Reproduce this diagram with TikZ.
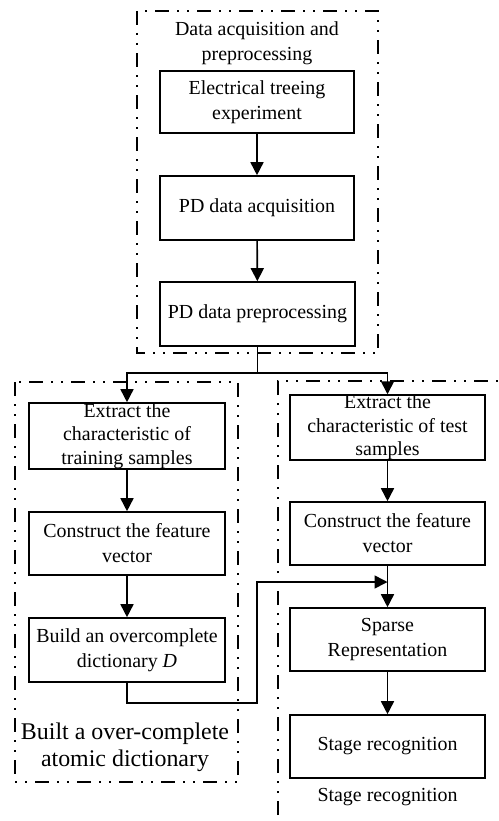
\documentclass[tikz,border=0pt]{standalone}
\usepackage{fontspec}
\setmainfont{Liberation Serif}
\usetikzlibrary{arrows.meta}
\tikzset{
  procbox/.style={draw, line width=1.6bp, rectangle, inner sep=0pt, align=center,
    font=\fontsize{20}{25}\selectfont},
  threeline/.style={font=\fontsize{20}{23.5}\selectfont},
  arr/.style={line width=1.6bp, -{Triangle[length=13bp,width=13bp]}},
  plainline/.style={line width=1.6bp},
  groupframe/.style={line width=1.8bp,
    dash pattern=on 14bp off 8bp on 2bp off 8bp on 2bp off 8bp},
  grouplabel/.style={align=center, inner sep=0pt}
}
\begin{document}
\begin{tikzpicture}[x=1bp,y=-1bp]
\useasboundingbox (0,0) rectangle (499,821);

% group frames
\draw[groupframe] (137,11) rectangle (378,353);
\draw[groupframe] (15,382) rectangle (238,782);
\draw[groupframe] (278,815) -- (278,381) -- (499,381);

% group labels
\node[grouplabel, font=\fontsize{20}{25}\selectfont] (gtop) at (257,43) {Data acquisition and\\preprocessing};
\node[grouplabel, font=\fontsize{24}{27.5}\selectfont] (gleft) at (125,747) {Built a over-complete\\atomic dictionary};
\node[grouplabel, font=\fontsize{20}{25}\selectfont] (gright) at (387.5,797) {Stage recognition};

% top column
\node[procbox, minimum width=194bp, minimum height=62bp] (e1) at (257,102) {Electrical treeing\\experiment};
\node[procbox, minimum width=194bp, minimum height=64bp] (e2) at (257,208) {PD data acquisition};
\node[procbox, minimum width=195bp, minimum height=64bp] (e3) at (257.5,314) {PD data preprocessing};

% left column
\node[procbox, threeline, minimum width=196bp, minimum height=66bp] (l1) at (127,436) {Extract the\\characteristic of\\training samples};
\node[procbox, minimum width=196bp, minimum height=63bp] (l2) at (127,543.5) {Construct the feature\\vector};
\node[procbox, minimum width=196bp, minimum height=64bp] (l3) at (127,650) {Build an overcomplete\\dictionary \textit{D}};

% right column
\node[procbox, threeline, minimum width=195bp, minimum height=63bp] (r1) at (387.5,427.5) {Extract the\\characteristic of test\\samples};
\node[procbox, minimum width=195bp, minimum height=63bp] (r2) at (387.5,533.5) {Construct the feature\\vector};
\node[procbox, minimum width=195bp, minimum height=63bp] (r3) at (387.5,639.5) {Sparse\\Representation};
\node[procbox, minimum width=195bp, minimum height=63bp] (r4) at (387.5,746.5) {Stage recognition};

% connectors
\draw[arr] (e1) -- (e2);
\draw[arr] (e2) -- (e3);
\coordinate (split) at (257.5,373);
\draw[plainline] (e3.south) -- (split);
\draw[arr] (split) -| (l1.north);
\draw[arr] (split) -| (r1.north);
\draw[arr] (l1) -- (l2);
\draw[arr] (l2) -- (l3);
\draw[arr] (r1) -- (r2);
\draw[arr] (r2) -- (r3);
\draw[arr] (r3) -- (r4);
\coordinate (fb1) at (257,703);
\coordinate (fb2) at (257,582);
\coordinate (fbend) at (387.5,582);
\draw[arr] (l3.south) |- (fb1) -- (fb2) -- (fbend);
\end{tikzpicture}
\end{document}
